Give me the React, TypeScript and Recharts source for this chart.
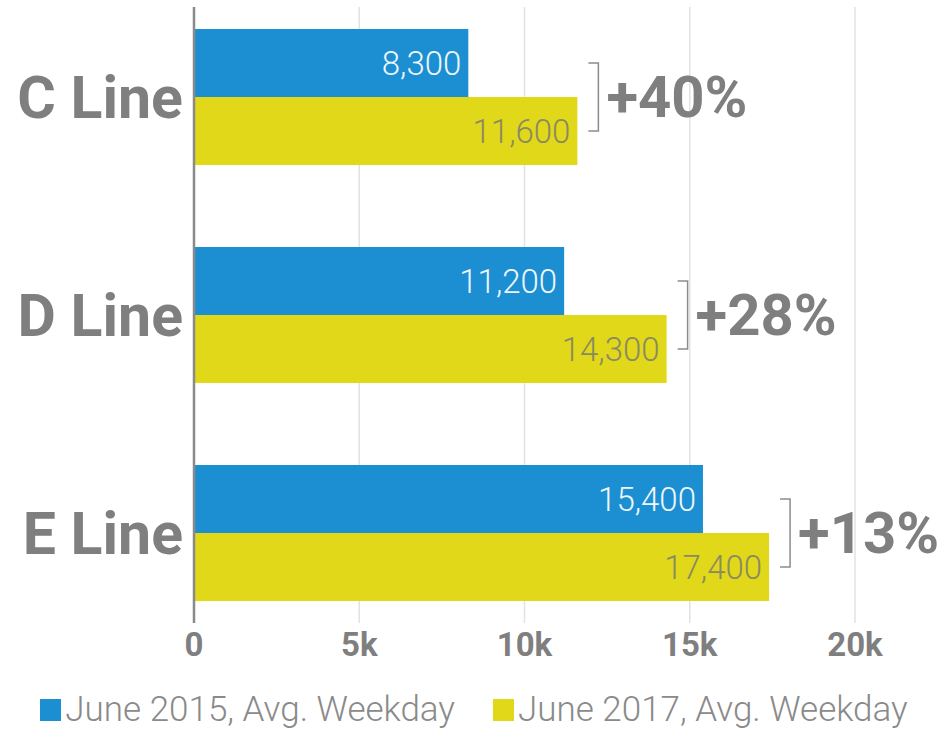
import { Bar, BarChart, CartesianGrid, LabelList, Legend, XAxis, YAxis } from "recharts"

const lines = ["C Line", "D Line", "E Line"]
const june2015 = [8300, 11200, 15400]
const june2017 = [11600, 14300, 17400]
const changes = ["+40%", "+28%", "+13%"]
const xTicks = [0, 5000, 10000, 15000, 20000]

const BLUE = "#1b8fd1"
const YELLOW = "#e1d81a"
const GRAY = "#7f7f7f"
const FONT = "Roboto, 'DejaVu Sans', sans-serif"

const chartData = lines.map((line, i) => ({
  line,
  june2015: june2015[i],
  june2017: june2017[i],
  change: changes[i],
}))

// bracket + percent change, drawn next to the 2017 bar
const renderChange = (props: any) => {
  const { x, y, width, height, index } = props
  const right = Number(x) + Number(width)
  const h = Number(height)
  const top = Number(y) - h / 2
  const bottom = Number(y) + h / 2
  const bx = right + 21
  return (
    <g>
      <path
        d={`M${bx - 10},${top} H${bx} V${bottom} H${bx - 10}`}
        fill="none"
        stroke="#8c8c8c"
        strokeWidth={1.5}
      />
      <text
        x={bx + 8}
        y={Number(y)}
        dominantBaseline="central"
        fontSize={58}
        fontWeight={700}
        fill={GRAY}
        fontFamily={FONT}
      >
        {changes[index]}
      </text>
    </g>
  )
}

const renderLegend = () => {
  const items = [
    { color: BLUE, label: "June 2015, Avg. Weekday" },
    { color: YELLOW, label: "June 2017, Avg. Weekday" },
  ]
  return (
    <div style={{ display: "flex", justifyContent: "center", gap: 38, fontFamily: FONT }}>
      {items.map((it) => (
        <div key={it.label} style={{ display: "flex", alignItems: "center" }}>
          <span style={{ width: 21, height: 22, background: it.color, marginRight: 4, display: "inline-block" }} />
          <span style={{ fontSize: 35, fontWeight: 300, color: "#8a8a8a", lineHeight: "40px" }}>{it.label}</span>
        </div>
      ))}
    </div>
  )
}

export default function App() {
  return (
    <div style={{ position: "absolute", left: 0, top: 0, background: "#fff" }}>
      <BarChart
        width={948}
        height={731}
        data={chartData}
        layout="vertical"
        margin={{ top: 7, right: 93, left: 0, bottom: 48 }}
        barGap={0}
      >
        <CartesianGrid horizontal={false} stroke="#e2e2e2" strokeWidth={1.5} />
        <XAxis
          type="number"
          domain={[0, 20000]}
          ticks={xTicks}
          tickFormatter={(v) => (v === 0 ? "0" : `${v / 1000}k`)}
          axisLine={false}
          tickLine={false}
          tickMargin={4}
          height={60}
          tick={{ fontSize: 33, fontWeight: 700, fill: GRAY, fontFamily: FONT }}
        />
        <YAxis
          type="category"
          dataKey="line"
          width={194}
          padding={{ top: -19, bottom: -19 }}
          axisLine={{ stroke: "#8a8a8a", strokeWidth: 2.5 }}
          tickLine={false}
          tickMargin={5}
          tick={{ fontSize: 59, fontWeight: 700, fill: GRAY, fontFamily: FONT }}
        />
        <Legend
          layout="horizontal"
          verticalAlign="middle"
          align="center"
          wrapperStyle={{ top: 690, left: 0, width: 948 }}
          content={renderLegend}
        />
        <Bar dataKey="june2015" fill={BLUE} barSize={68} isAnimationActive={false}>
          <LabelList
            dataKey="june2015"
            position="insideRight"
            offset={7}
            formatter={(v: any) => Number(v).toLocaleString("en-US")}
            style={{ fontSize: 33, fontWeight: 300, fill: "#eef6fb", fontFamily: FONT }}
          />
        </Bar>
        <Bar dataKey="june2017" fill={YELLOW} barSize={68} isAnimationActive={false}>
          <LabelList
            dataKey="june2017"
            position="insideRight"
            offset={7}
            formatter={(v: any) => Number(v).toLocaleString("en-US")}
            style={{ fontSize: 33, fontWeight: 300, fill: "#8a8a62", fontFamily: FONT }}
          />
          <LabelList dataKey="june2017" content={renderChange} />
        </Bar>
      </BarChart>
    </div>
  )
}
